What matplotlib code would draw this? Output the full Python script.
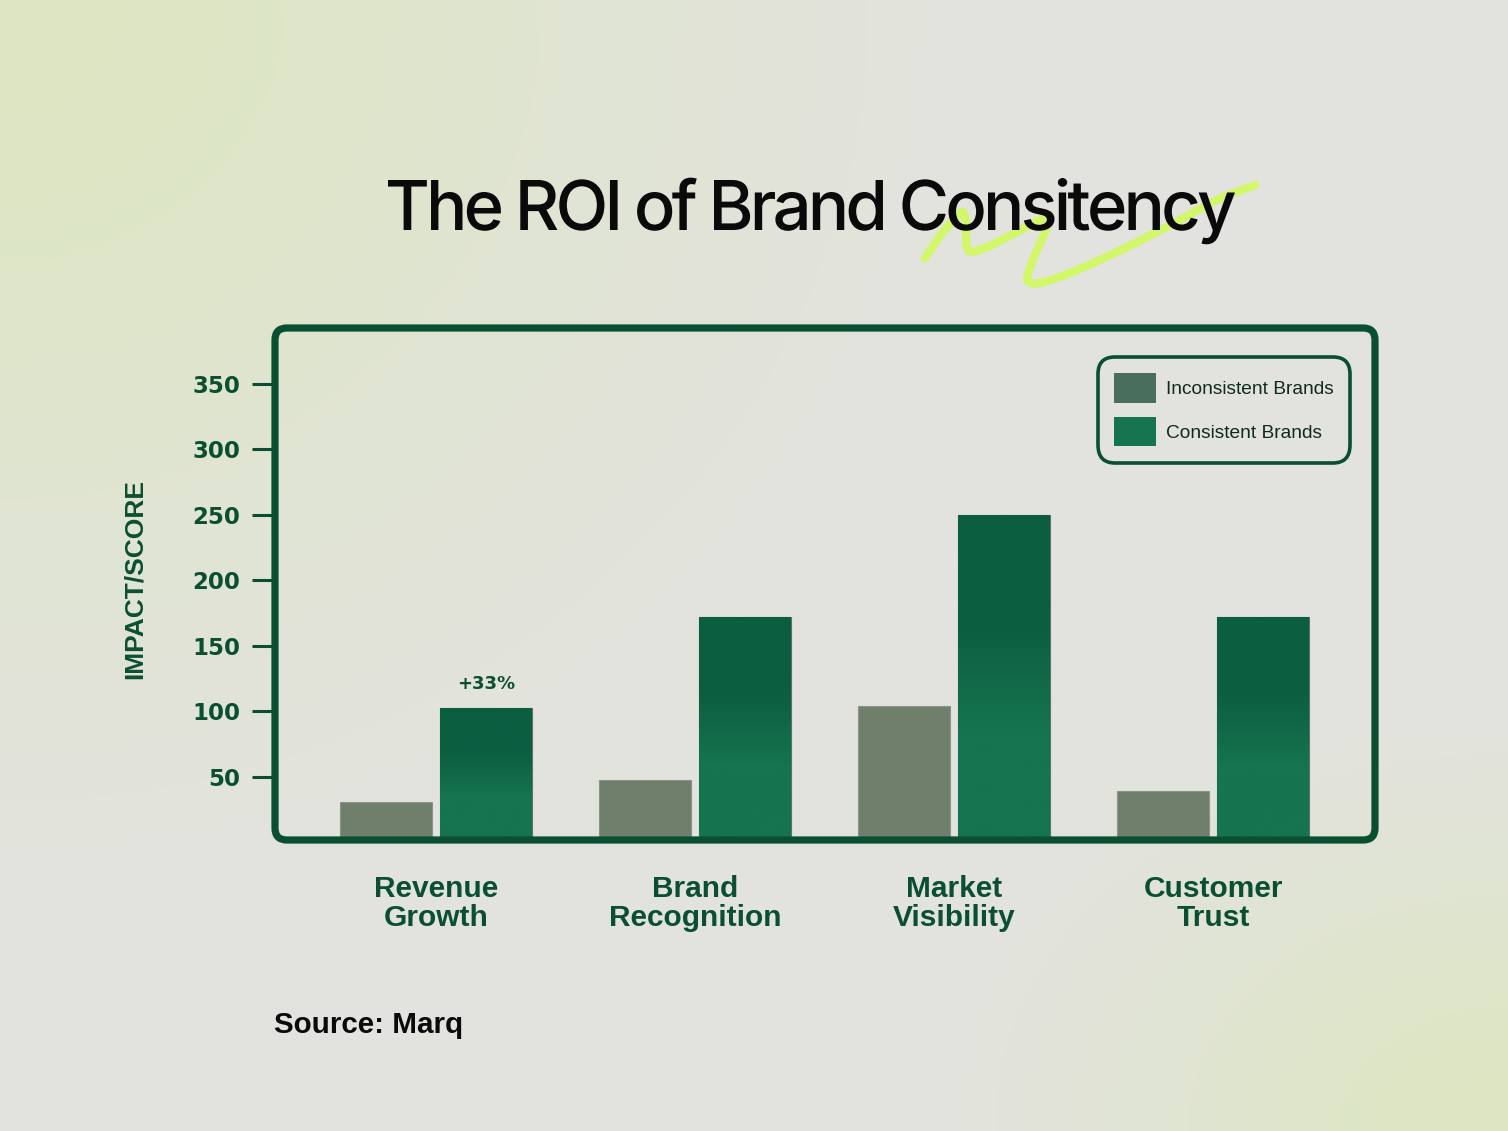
import numpy as np
import matplotlib
matplotlib.use("Agg")
import matplotlib.pyplot as plt
from matplotlib.patches import FancyBboxPatch, Patch, PathPatch
from matplotlib.textpath import TextPath
from matplotlib.font_manager import FontProperties, findfont, get_font
from matplotlib.path import Path
from matplotlib.transforms import Affine2D, IdentityTransform
from matplotlib.colors import LinearSegmentedColormap, to_rgb

# ---------------- data ----------------
categories = ["Revenue\nGrowth", "Brand\nRecognition", "Market\nVisibility", "Customer\nTrust"]
inconsistent = [31, 48, 104, 39]
consistent = [103, 172, 250, 172]
series_names = ["Inconsistent Brands", "Consistent Brands"]
yticks = [50, 100, 150, 200, 250, 300, 350]
annotation = "+33%"
title = "The ROI of Brand Consitency"
ylabel = "IMPACT/SCORE"
source = "Source: Marq"

# ---------------- style ----------------
W, H = 1508, 1131
DPI = 100
DARK = "#0b4f33"
GRAY = "#707e6c"
LEG_GRAY = "#4a6e5e"
GREEN = "#16744f"
GREEN_TOP = "#0c5e41"
LIME = "#d2f76a"

fig = plt.figure(figsize=(W / DPI, H / DPI), dpi=DPI)

# background gradient
bg = fig.add_axes([0, 0, 1, 1], zorder=-10)
ny, nx = 120, 160
yy, xx = np.mgrid[0:ny, 0:nx]
xx = xx / (nx - 1) * W
yy = yy / (ny - 1) * H
base = np.array(to_rgb("#e3e3e0"))
tint = np.array(to_rgb("#dde6c3"))
w1 = np.exp(-(((xx - 0) / 650) ** 2 + ((yy - 0) / 600) ** 2))
w2 = np.exp(-(((xx - W) / 380) ** 2 + ((yy - H) / 280) ** 2))
w = np.clip(w1 + w2, 0, 1)[..., None]
img = base * (1 - w) + tint * w
bg.imshow(img, extent=[0, W, H, 0], aspect="auto", interpolation="bilinear")
bg.set_xlim(0, W)
bg.set_ylim(H, 0)
bg.axis("off")

def fx(px):
    return px / W

def fy(py):
    return 1 - py / H

# main axes: frame from x 275..1375, y 328..840 (pixels from top)
L, R, T, B = 275, 1375, 328, 840
ax = fig.add_axes([fx(L), fy(B), fx(R) - fx(L), fy(T) - fy(B)])
ax.set_facecolor("none")
ax.patch.set_alpha(0)

x = np.arange(len(categories))
bw = 0.355
off = 0.193

bars_i = ax.bar(x - off, inconsistent, bw, color=GRAY, edgecolor="#8a9488",
                linewidth=0.8, zorder=3)
bars_c = ax.bar(x + off, consistent, bw, color=GREEN, edgecolor="#5c7468",
                linewidth=0.8, zorder=3)

grad = LinearSegmentedColormap.from_list("g", [GREEN, GREEN, GREEN_TOP, GREEN_TOP])
gimg = np.linspace(0, 1, 256)[:, None]
for b in bars_c:
    x0, y0 = b.get_x(), 0
    x1, y1 = b.get_x() + b.get_width(), b.get_height()
    im = ax.imshow(gimg, cmap=grad, extent=[x0, x1, y0, y1], origin="lower",
                   aspect="auto", zorder=3.5, interpolation="bilinear")
    im.set_clip_path(b)
ax.set_xlim(-0.622, 3.625)
ax.set_ylim(1.9, 392.7)

for s in ax.spines.values():
    s.set_visible(False)

ax.set_yticks(yticks)
ax.set_yticklabels([str(v) for v in yticks], fontsize=16.5, color=DARK,
                   family="DejaVu Sans", fontweight="bold")
ax.tick_params(axis="y", length=16.5, width=2.2, color=DARK, pad=8.5, direction="out")
ax.set_xticks(x)
ax.set_xticklabels(categories, fontsize=21.5, color=DARK, family="Liberation Sans",
                   fontweight="bold", linespacing=1.08)
ax.tick_params(axis="x", length=0, pad=25)

ax.set_ylabel(ylabel, fontsize=19, color=DARK, family="Liberation Sans",
              fontweight="bold")
ax.yaxis.set_label_coords((147 - L) / (R - L), (B - 579) / (B - T))

ax.text(x[0] + off, 121, annotation, ha="center", va="center", fontsize=13,
        color=DARK, family="DejaVu Sans", fontweight="bold")

# frame
frame = FancyBboxPatch((L, H - B), R - L, B - T,
                       boxstyle="round,pad=0,rounding_size=12",
                       transform=IdentityTransform(), facecolor="none",
                       edgecolor=DARK, linewidth=5.2, zorder=10)
fig.add_artist(frame)

# legend
handles = [Patch(facecolor=LEG_GRAY, edgecolor="none", label=series_names[0]),
           Patch(facecolor=GREEN, edgecolor="none", label=series_names[1])]
leg = ax.legend(handles=handles, loc="upper right",
                bbox_to_anchor=(fx(1350), fy(357)), bbox_transform=fig.transFigure,
                handlelength=2.2, handleheight=2.0, labelspacing=0.72,
                handletextpad=0.5, borderpad=0.85, borderaxespad=0, frameon=True,
                fancybox=True, framealpha=1,
                prop={"family": "Liberation Sans", "size": 13.8})
fr = leg.get_frame()
fr.set_edgecolor(DARK)
fr.set_linewidth(2.6)
fr.set_facecolor("none")
fr.set_boxstyle("round,pad=0,rounding_size=0.9")
for t in leg.get_texts():
    t.set_color("#102a1d")
leg.set_zorder(20)

# squiggle (decoration) under title
pts = np.array([(925, 258), (940, 236), (955, 218), (963, 212), (966, 225),
                (968, 250), (985, 248), (1015, 233), (1040, 220), (1050, 216),
                (1043, 237), (1032, 262), (1028, 281), (1048, 281), (1100, 260),
                (1165, 228), (1215, 201), (1255, 185)], dtype=float)

def catmull(p, n=20):
    out = []
    P = np.vstack([p[0], p, p[-1]])
    for i in range(1, len(P) - 2):
        p0, p1, p2, p3 = P[i - 1], P[i], P[i + 1], P[i + 2]
        for t in np.linspace(0, 1, n, endpoint=False):
            t2, t3 = t * t, t * t * t
            out.append(0.5 * ((2 * p1) + (-p0 + p2) * t +
                              (2 * p0 - 5 * p1 + 4 * p2 - p3) * t2 +
                              (-p0 + 3 * p1 - 3 * p2 + p3) * t3))
    out.append(p[-1])
    return np.array(out)

cv = catmull(pts)
ov = fig.add_axes([0, 0, 1, 1], zorder=5)
ov.set_xlim(0, W)
ov.set_ylim(H, 0)
ov.axis("off")
ov.patch.set_alpha(0)
ov.plot(cv[:, 0], cv[:, 1], color=LIME, lw=6, solid_capstyle="round", zorder=1)

# title: glyph by glyph with tight tracking
fp = FontProperties(family="Inter", weight="medium")
ft = get_font(findfont(fp))
ft.set_size(100, 72)
advs = []
for ch in title:
    g = ft.load_char(ord(ch))
    advs.append(g.linearHoriAdvance / 65536.0)
capT = TextPath((0, 0), "T", size=100, prop=fp).get_extents().height
sc = 50 / capT
target = 1235 - 388
first_x0 = TextPath((0, 0), title[0], size=100, prop=fp).get_extents().x0
last_bb = TextPath((0, 0), title[-1], size=100, prop=fp).get_extents()
natural = sum(advs[:-1]) + last_bb.x1 - first_x0
trk = (natural - target / sc) / (len(title) - 1)
verts, codes = [], []
cx = -first_x0
for ch, a in zip(title, advs):
    if ch != " ":
        p = TextPath((cx, 0), ch, size=100, prop=fp)
        verts.append(p.vertices)
        codes.append(p.codes)
    cx += a - trk
tpath = Path(np.vstack(verts), np.concatenate(codes))
tr = Affine2D().scale(sc).translate(388, H - 230)
tpatch = PathPatch(tpath, transform=tr + IdentityTransform(), facecolor="#0a0a0a",
                   edgecolor="none", zorder=6)
fig.add_artist(tpatch)

# source
fig.text(fx(274), fy(1025), source, ha="left", va="center", fontsize=21.3,
         family="Liberation Sans", fontweight="bold", color="#0a0a0a")

fig.savefig("out.png", dpi=DPI)
